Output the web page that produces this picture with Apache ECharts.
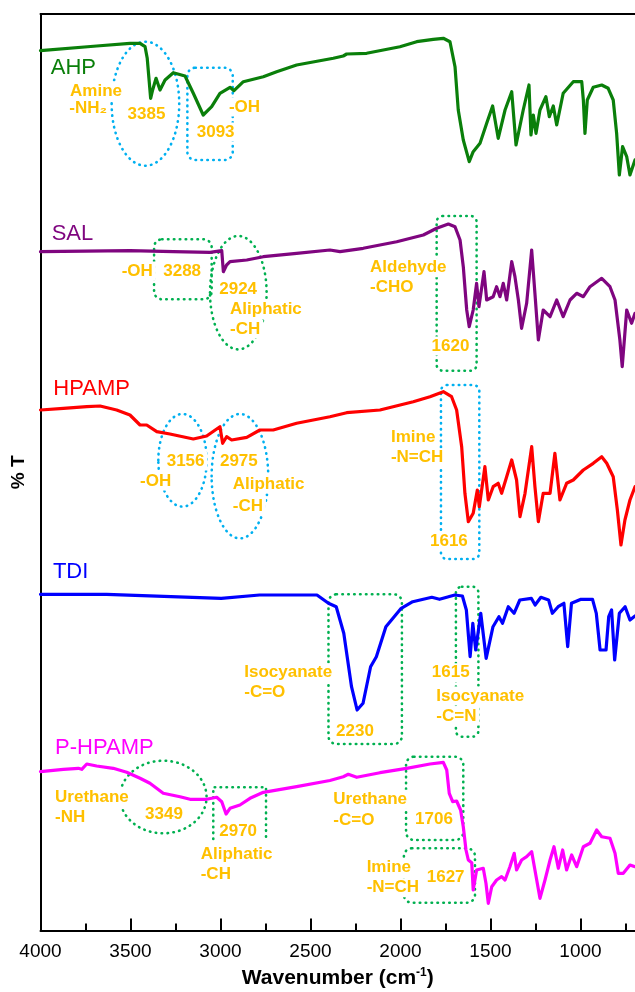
<!DOCTYPE html>
<html><head><meta charset="utf-8">
<script src="https://cdn.jsdelivr.net/npm/echarts@6/dist/echarts.min.js"></script>
<style>html,body{margin:0;padding:0;background:#fff}#c{width:635px;height:992px}</style>
</head><body><div id="c"></div>
<script>
// ---- tick values ----
const majorTicks = [4000, 3500, 3000, 2500, 2000, 1500, 1000];
const minorTicks = [3750, 3250, 2750, 2250, 1750, 1250, 750];
const seriesNames = ['AHP', 'SAL', 'HPAMP', 'TDI', 'P-HPAMP'];

// ---- spectra: [wavenumber (cm-1), %T (stacked, arbitrary offset)] ----
const ahp = [[4000,885.3],[3688,890],[3503,892.7],[3447,892.7],[3419,889.3],[3407,877.7],[3388,837.7],[3377,846],[3358,857.7],[3336,846],[3308,856],[3262,863.3],[3197,860],[3151,842.7],[3096,821],[3049,829.3],[3003,842.7],[2947,848.7],[2925,845.3],[2873,854.3],[2762,859.3],[2688,864.3],[2577,871],[2373,877.7],[2318,880],[2299,882],[2188,882.7],[2003,889.3],[1910,894.3],[1818,896.7],[1762,897.7],[1725,894.3],[1697,869.3],[1679,826],[1651,796],[1618,774.3],[1596,784.3],[1558,792.7],[1521,812.7],[1488,830],[1457,797.7],[1419,826],[1382,844.3],[1358,791],[1318,826],[1286,851],[1275,801],[1262,821],[1247,802.7],[1225,826],[1192,839.3],[1173,819.3],[1151,830],[1132,811],[1096,842.7],[1040,854.3],[993,854.3],[984,836],[975,802.7],[962,836],[929,848.7],[882,851],[846,847.7],[818,836],[799,802.7],[784,761],[766,789.3],[743,779.3],[725,761],[697,776]];
const sal = [[4000,684.3],[3503,685.3],[3262,684.3],[3058,683.7],[2993,685.3],[2984,664.3],[2966,671],[2947,674.3],[2854,676],[2762,679.3],[2577,682.7],[2392,686],[2336,684.3],[2207,687.7],[2021,694.3],[1873,701],[1799,707.7],[1734,712],[1697,709.3],[1669,696],[1651,669.3],[1632,626],[1618,609.3],[1596,626],[1577,652.7],[1564,629.3],[1536,664.3],[1521,636],[1485,639.3],[1466,649.3],[1447,639.3],[1429,652.7],[1410,636],[1382,674.3],[1364,659.3],[1345,636],[1327,607.7],[1299,632.7],[1271,686],[1253,642.7],[1234,596],[1207,626],[1169,619.3],[1132,636],[1096,619.3],[1058,636],[1021,642.7],[984,639.3],[947,649.3],[882,657.7],[836,649.3],[808,636],[781,596],[768,569.3],[743,626],[716,612.7],[697,622.7]];
const hpamp = [[4000,526],[3873,527.7],[3743,529.3],[3669,530],[3577,526],[3503,521],[3447,511],[3410,511],[3354,504.3],[3281,502],[3151,497],[3077,500],[3003,509.3],[2988,492.7],[2966,499.3],[2938,496],[2854,498.7],[2781,506],[2707,506],[2577,512.7],[2392,519.3],[2299,523.3],[2114,526],[1929,534.3],[1836,539.3],[1762,544.3],[1716,539.3],[1688,526],[1660,489.3],[1642,442.7],[1623,414.3],[1596,422.7],[1573,446],[1562,429.3],[1531,469.3],[1512,436],[1485,449.3],[1457,452.7],[1438,442.7],[1410,459.3],[1382,476],[1355,456],[1336,419.3],[1308,442.7],[1271,489.3],[1253,449.3],[1234,414.3],[1207,442.7],[1169,442.7],[1142,482.7],[1114,436],[1077,452.7],[1040,456],[984,466],[929,472.7],[882,479.3],[854,472.7],[818,459.3],[795,426],[775,391],[753,416],[725,436],[697,449.3]];
const tdi = [[4000,341.7],[3633,341.7],[2996,337.7],[2783,341],[2464,341],[2400,332.7],[2357,329.3],[2315,302.7],[2272,249.3],[2241,226],[2208,232.7],[2166,269.3],[2134,279.3],[2081,309.3],[1996,327.7],[1932,334.3],[1826,338.7],[1783,336.7],[1698,341],[1656,340],[1634,326],[1613,279.3],[1598,312.7],[1582,286],[1554,322.7],[1524,277.7],[1486,309.3],[1453,319.3],[1433,312.7],[1401,329.3],[1369,322.7],[1337,336],[1273,337.7],[1252,331],[1220,338.7],[1177,336],[1156,322.7],[1124,329.3],[1092,332.7],[1071,289.3],[1050,332.7],[997,336.7],[933,336.7],[912,322.7],[891,286],[858,286],[843,319.3],[827,326],[810,276],[784,322.7],[752,329.3],[725,316],[697,320]];
const phpamp = [[4000,164.3],[3873,166.7],[3790,167.7],[3771,166.7],[3743,172],[3688,170],[3596,167.7],[3521,163.7],[3447,157.7],[3392,152.7],[3318,142.7],[3225,139.3],[3169,136.7],[3077,136.7],[3021,138.7],[2993,134.3],[2969,122],[2947,127.7],[2892,131],[2836,137.7],[2762,143.7],[2577,149.3],[2392,155.5],[2318,159.3],[2290,161.7],[2243,158.7],[2114,163.3],[1966,167.7],[1836,172],[1762,173.7],[1743,166],[1729,142.7],[1710,134.3],[1688,135],[1666,126],[1651,109.3],[1636,86],[1623,76],[1604,73.3],[1596,46],[1577,66],[1540,67.7],[1525,52.7],[1512,32.7],[1493,49.3],[1466,56],[1438,59.3],[1419,56],[1392,69.3],[1368,82.7],[1355,66],[1327,76],[1299,79.3],[1271,84.3],[1253,66],[1225,37.7],[1197,56],[1169,76],[1147,89.3],[1123,67.7],[1099,86],[1077,66],[1049,81],[1021,69.3],[984,89.3],[947,92.7],[910,106],[882,99.3],[836,97.7],[808,82.7],[790,62.7],[762,62.7],[725,71],[697,69.3]];

const colors = ['#0a7f0a', '#7f057f', '#ff0000', '#0000ff', '#ff00ff'];
const spectra = [ahp, sal, hpamp, tdi, phpamp];

// ---- annotations (in data coordinates) ----
const nameLabels = [[3943,876],[3938,709.3],[3929,554.3],[3931,372],[3919,196]];
const notes = [
  ['Amine',3836,851],['-NH\u2082',3840,834],['3385',3516,828],['3093',3132,810],['-OH',2953,835],
  ['-OH',3549,671],['3288',3318,671],['2924',3007,652.7],['Aliphatic',2947,633],['-CH',2947,613],
  ['Aldehyde',2169,674.3],['-CHO',2169,654.3],['1620',1827,596],
  ['3156',3299,481],['-OH',3447,461],['2975',3003,481],['Aliphatic',2932,458],['-CH',2932,436],
  ['Imine',2053,504.3],['-N=CH',2053,484.3],['1616',1836,401],
  ['Isocyanate',2868,269.3],['-C=O',2868,249.3],['2230',2358,211],['1615',1826,269.3],['Isocyanate',1801,246],['-C=N',1801,226],
  ['Urethane',3919,144.3],['-NH',3919,124.3],['3349',3419,127.7],['2970',3007,111],['Aliphatic',3110,87.7],['-CH',3110,67.7],
  ['Urethane',2373,142.7],['-C=O',2373,122],['1706',1919,122.7],['Imine',2188,74.3],['-N=CH',2188,54.3],['1627',1854,64.3]
];
const BLUE = '#00b0f0', GREEN = '#00b050';
const ellipses = [[3417,832.3,187.8,62,BLUE],[3211,475.7,134.4,46.3,BLUE],[2892,459.8,157.2,62.2,BLUE],[2901,643.3,157.2,56.7,GREEN],[3318,139,240.6,36.3,GREEN]];
const boxes = [[3184,868.3,2932,776,BLUE,8],[1775,551,1562,377,BLUE,6],[3369,696.7,3049,636.7,GREEN,8],[1799,720,1577,565.3,GREEN,6],[2400,341.7,1992,192,GREEN,8],[1692,349.3,1567,199.3,GREEN,6],[1969,179.3,1651,96,GREEN,8],[1981,87.7,1586,33.3,GREEN,8]];
const openBoxes = [[3040,148.7,2747,97,GREEN]];

const FONT = '"Liberation Sans", Arial, Helvetica, sans-serif';
const chart = echarts.init(document.getElementById('c'), null, {renderer: 'canvas'});
const baseX = {type: 'value', min: 697, max: 4000, inverse: true, splitLine: {show: false}};
const gridPos = {left: 40.5, right: 0, top: 14, bottom: 61.5, containLabel: false, outerBoundsMode: 'none'};

chart.setOption({
  animation: false,
  grid: [gridPos, Object.assign({}, gridPos)],
  xAxis: [
    Object.assign({}, baseX, {gridIndex: 0, position: 'bottom',
      axisLine: {show: true, onZero: false, lineStyle: {color: '#000', width: 2}},
      axisTick: {show: true, inside: true, length: 12, customValues: majorTicks, lineStyle: {color: '#000', width: 2}},
      axisLabel: {customValues: majorTicks, margin: 12, color: '#000', fontSize: 19, fontFamily: FONT,
        formatter: v => String(Math.round(v))},
      name: '{a|Wavenumber (cm}{s|-1}{a|)}', nameLocation: 'middle', nameGap: 35,
      nameTextStyle: {rich: {
        a: {fontSize: 21, fontWeight: 'bold', color: '#000', fontFamily: FONT, lineHeight: 24},
        s: {fontSize: 12, fontWeight: 'bold', color: '#000', fontFamily: FONT, verticalAlign: 'top', lineHeight: 12}
      }}
    }),
    Object.assign({}, baseX, {gridIndex: 0, position: 'top',
      axisLine: {show: true, onZero: false, lineStyle: {color: '#000', width: 2}},
      axisTick: {show: false}, axisLabel: {show: false}}),
    Object.assign({}, baseX, {gridIndex: 1, position: 'bottom',
      axisLine: {show: false},
      axisTick: {show: true, inside: true, length: 7, customValues: minorTicks, lineStyle: {color: '#000', width: 2}},
      axisLabel: {show: false}})
  ],
  yAxis: [
    {type: 'value', gridIndex: 0, min: 5.5, max: 922,
      axisLine: {show: true, onZero: false, lineStyle: {color: '#000', width: 2}},
      axisTick: {show: false}, axisLabel: {show: false}, splitLine: {show: false},
      name: '% T', nameLocation: 'middle', nameGap: 12,
      nameTextStyle: {fontSize: 19, fontWeight: 'bold', color: '#000', fontFamily: FONT}},
    {type: 'value', gridIndex: 1, min: 5.5, max: 922, show: false}
  ],
  series: spectra.map((d, i) => ({
    type: 'line', name: seriesNames[i], data: d, xAxisIndex: 0, yAxisIndex: 0,
    showSymbol: false, symbol: 'none', z: 10, silent: true,
    lineStyle: {color: colors[i], width: 3.2, join: 'round', cap: 'round'},
    itemStyle: {color: colors[i]}
  }))
});

const P = (w, v) => chart.convertToPixel({xAxisIndex: 0, yAxisIndex: 0}, [w, v]);
const dot = (c) => ({stroke: c, lineWidth: 2.6, lineDash: [0.5, 5.4], lineCap: 'round', fill: 'none'});
const g = [];
ellipses.forEach(e => {
  const c = P(e[0], e[1]);
  const a = P(e[0] - e[2], e[1] + e[3]);
  g.push({type: 'ellipse', z: 1, silent: true, shape: {cx: c[0], cy: c[1], rx: Math.abs(a[0] - c[0]), ry: Math.abs(a[1] - c[1])}, style: dot(e[4])});
});
boxes.forEach(b => {
  const p1 = P(b[0], b[1]), p2 = P(b[2], b[3]);
  g.push({type: 'rect', z: 1, silent: true, shape: {x: p1[0], y: p1[1], width: p2[0] - p1[0], height: p2[1] - p1[1], r: b[5]}, style: dot(b[4])});
});
openBoxes.forEach(b => {
  const a = P(b[0], b[3]), bb = P(b[0], b[1]), c = P(b[2], b[1]), d = P(b[2], b[3]);
  g.push({type: 'polyline', z: 1, silent: true, shape: {points: [a, bb, c, d]}, style: dot(b[4])});
});
notes.forEach(n => {
  const p = P(n[1], n[2]);
  const fs = 17;
  g.push({type: 'text', z: 3, silent: true, x: p[0] - 3, y: p[1] - fs * 0.15 - 1,
    style: {text: n[0], fill: '#ffc000', font: 'bold ' + fs + 'px ' + FONT, align: 'left', verticalAlign: 'top',
      backgroundColor: '#ffffff', padding: [1, 3]}});
});
nameLabels.forEach((n, i) => {
  const p = P(n[0], n[1]);
  const fs = 22;
  g.push({type: 'text', z: 3, silent: true, x: p[0], y: p[1] - fs * 0.15,
    style: {text: seriesNames[i], fill: colors[i], font: fs + 'px ' + FONT, align: 'left', verticalAlign: 'top'}});
});
chart.setOption({graphic: g});
</script>
</body></html>
